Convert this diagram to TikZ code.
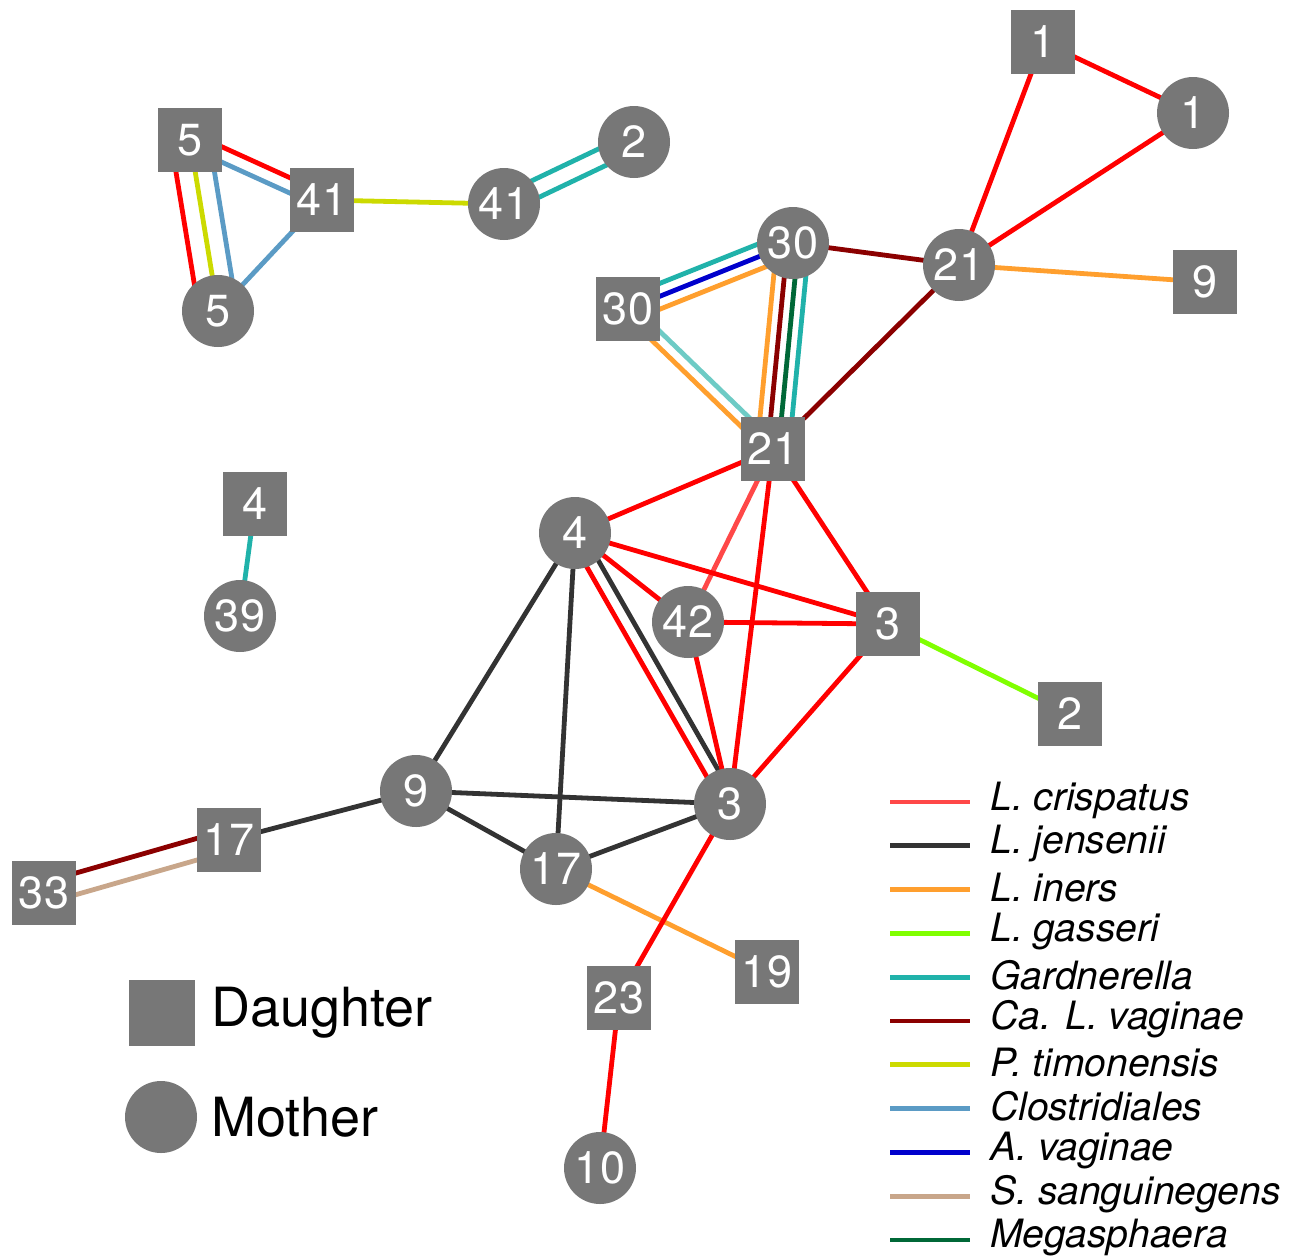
\documentclass[tikz,border=0pt]{standalone}
\usepackage{fontspec}
\setmainfont{TeX Gyre Heros}
\usetikzlibrary{calc,backgrounds}

\definecolor{nodegray}{HTML}{777777}
\definecolor{crisp}{HTML}{FF0000}
\definecolor{crisplight}{HTML}{FF4848}
\definecolor{jens}{HTML}{333333}
\definecolor{iners}{HTML}{FF9F2E}
\definecolor{gass}{HTML}{80FF00}
\definecolor{gard}{HTML}{20B2AA}
\definecolor{gardlight}{HTML}{6ECBC5}
\definecolor{cavag}{HTML}{8B0000}
\definecolor{ptim}{HTML}{CCDA00}
\definecolor{clost}{HTML}{5B9BC5}
\definecolor{avag}{HTML}{0000CC}
\definecolor{ssang}{HTML}{C8A68A}
\definecolor{mega}{HTML}{006837}

% one shared taxon between two samples, shifted sideways by #1
\newcommand{\edgeline}[4][0pt]{\draw[lnk,#4] ($(#2)!#1!90:(#3)$) -- ($(#3)!#1!-90:(#2)$);}

\begin{document}
\begin{tikzpicture}[x=0.5pt,y=-0.5pt]
\tikzset{dau/.style={rectangle,fill=nodegray,minimum size=32pt,inner sep=0pt,text=white,font=\fontsize{22.5}{26}\selectfont},
mom/.style={circle,fill=nodegray,minimum size=36pt,inner sep=0pt,text=white,font=\fontsize{22.5}{26}\selectfont},
lnk/.style={line width=2.4pt}}
\useasboundingbox (0,0) rectangle (1300,1258);

\node[dau] (d1) at (1043,42) {1};
\node[mom] (m1) at (1193,113) {1};
\node[dau] (d5) at (190,140) {5};
\node[dau] (d41) at (322,200) {41};
\node[mom] (m41) at (504,204) {41};
\node[mom] (m2) at (634,142) {2};
\node[mom] (m5) at (218,311) {5};
\node[mom] (m30) at (793,243) {30};
\node[dau] (d30) at (628,309) {30};
\node[mom] (m21) at (959,265) {21};
\node[dau] (d9) at (1205,282) {9};
\node[dau] (d21) at (773,449) {21};
\node[dau] (d4) at (255,504) {4};
\node[mom] (m39) at (240,616) {39};
\node[mom] (m4) at (575,533) {4};
\node[mom] (m42) at (688,622) {42};
\node[dau] (d3) at (888,624) {3};
\node[dau] (d2) at (1070,714) {2};
\node[mom] (m9) at (416,791) {9};
\node[mom] (m3) at (730,804) {3};
\node[dau] (d17) at (229,840) {17};
\node[dau] (d33) at (44,893) {33};
\node[mom] (m17) at (556,869) {17};
\node[dau] (d19) at (767,972) {19};
\node[dau] (d23) at (619,998) {23};
\node[mom] (m10) at (600,1168) {10};

\begin{pgfonlayer}{background}
\edgeline{d1}{m1}{crisp}
\edgeline{d1}{m21}{crisp}
\edgeline{m1}{m21}{crisp}
\edgeline{m21}{d9}{iners}
\edgeline{m30}{m21}{cavag}
\edgeline{m21}{d21}{cavag}
\edgeline[3.5pt]{d5}{d41}{crisp}
\edgeline[-3.5pt]{d5}{d41}{clost}
\edgeline[-9.5pt]{d5}{m5}{crisp}
\edgeline{d5}{m5}{ptim}
\edgeline[9.5pt]{d5}{m5}{clost}
\edgeline{d41}{m5}{clost}
\edgeline{d41}{m41}{ptim}
\edgeline[4.5pt]{m41}{m2}{gard}
\edgeline[-4.5pt]{m41}{m2}{gard}
\edgeline[6pt]{d30}{m30}{gard}
\edgeline{d30}{m30}{avag}
\edgeline[-6pt]{d30}{m30}{iners}
\edgeline[3pt]{d30}{d21}{gardlight}
\edgeline[-3pt]{d30}{d21}{iners}
\edgeline[-8pt]{m30}{d21}{iners}
\edgeline[-2.7pt]{m30}{d21}{cavag}
\edgeline[2.7pt]{m30}{d21}{mega}
\edgeline[8pt]{m30}{d21}{gard}
\edgeline{d21}{m4}{crisp}
\edgeline{d21}{m42}{crisplight}
\edgeline{d21}{m3}{crisp}
\edgeline{d21}{d3}{crisp}
\edgeline{m4}{d3}{crisp}
\edgeline{m4}{m42}{crisp}
\edgeline[-3.3pt]{m4}{m3}{crisp}
\edgeline[3.3pt]{m4}{m3}{jens}
\edgeline{m42}{d3}{crisp}
\edgeline{m42}{m3}{crisp}
\edgeline{d3}{m3}{crisp}
\edgeline{d3}{d2}{gass}
\edgeline{m4}{m9}{jens}
\edgeline{m4}{m17}{jens}
\edgeline{m9}{m3}{jens}
\edgeline{m9}{m17}{jens}
\edgeline{m17}{m3}{jens}
\edgeline{m9}{d17}{jens}
\edgeline[5.2pt]{d33}{d17}{cavag}
\edgeline[-5.2pt]{d33}{d17}{ssang}
\edgeline{m17}{d19}{iners}
\edgeline{m3}{d23}{crisp}
\edgeline{d23}{m10}{crisp}
\edgeline{d4}{m39}{gard}
\end{pgfonlayer}

% key
\node[dau,minimum size=33pt] (kdau) at (162,1013) {};
\node[mom] (kmom) at (161,1117) {};
\node[anchor=west,inner sep=0pt,font=\fontsize{27}{32}\selectfont] (tdau) at (211,1013) {Daughter};
\node[anchor=west,inner sep=0pt,font=\fontsize{27}{32}\selectfont] (tmom) at (211,1117) {Mother};
\foreach \c/\t [count=\i from 0] in {crisplight/L. crispatus,jens/L. jensenii,iners/L. iners,gass/L. gasseri,gard/Gardnerella,cavag/Ca. L. vaginae,ptim/P. timonensis,clost/Clostridiales,avag/A. vaginae,ssang/S. sanguinegens,mega/Megasphaera}{
  \draw[lnk,\c] (890,802+43.8*\i) -- (970,802+43.8*\i);
  \node[anchor=west,inner sep=0pt,font=\fontsize{19.5}{23}\selectfont\itshape] (tax\i) at (990,800+43.8*\i) {\t};
}
\end{tikzpicture}
\end{document}
